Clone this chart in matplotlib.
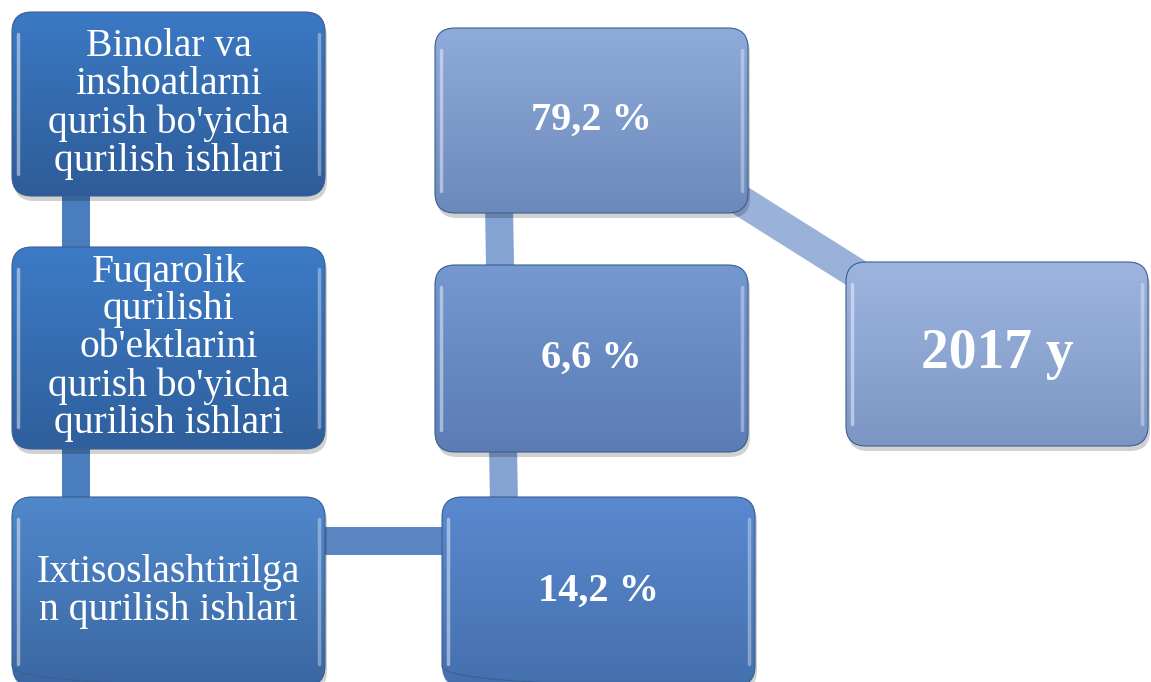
import matplotlib.pyplot as plt
import numpy as np
from matplotlib.patches import FancyBboxPatch, Polygon

plt.rcParams['font.family'] = ['Liberation Serif', 'DejaVu Serif']

# Ma'lumotlar
categories = [
    "Binolar va\ninshoatlarni\nqurish bo'yicha\nqurilish ishlari",
    "Fuqarolik\nqurilishi\nob'ektlarini\nqurish bo'yicha\nqurilish ishlari",
    "Ixtisoslashtirilga\nn qurilish ishlari",
]
shares = [79.2, 6.6, 14.2]
year_label = "2017 y"

W, H = 1151, 682
fig = plt.figure(figsize=(W / 100, H / 100), dpi=100)
ax = fig.add_axes([0, 0, 1, 1])
ax.set_xlim(0, W)
ax.set_ylim(H, 0)
ax.axis('off')


def hex2rgb(h):
    h = h.lstrip('#')
    return np.array([int(h[i:i + 2], 16) / 255 for i in (0, 2, 4)])


def box(x0, y0, x1, y1, top, bottom, text, size, weight='normal', ls=1.0):
    r = 20
    # shadow
    sh = FancyBboxPatch((x0 + r + 2, y0 + r + 5), x1 - x0 - 2 * r, y1 - y0 - 2 * r,
                        boxstyle=f"round,pad={r}", fc='#000000', ec='none', alpha=0.18, zorder=2)
    ax.add_patch(sh)
    p = FancyBboxPatch((x0 + r, y0 + r), x1 - x0 - 2 * r, y1 - y0 - 2 * r,
                       boxstyle=f"round,pad={r}", fc='none', ec='#3a5f90', lw=0.8, zorder=4)
    ax.add_patch(p)
    t = np.linspace(0, 1, 200)[:, None, None]
    grad = hex2rgb(top)[None, None, :] * (1 - t) + hex2rgb(bottom)[None, None, :] * t
    im = ax.imshow(grad, extent=(x0, x1, y1, y0), origin='upper', aspect='auto', zorder=3)
    im.set_clip_path(p)
    # bevel highlights
    ax.plot([x0 + 6, x0 + 6], [y0 + 22, y1 - 22], color='white', alpha=0.45, lw=2.5,
            solid_capstyle='round', zorder=5)
    ax.plot([x1 - 6, x1 - 6], [y0 + 22, y1 - 22], color='white', alpha=0.35, lw=2.5,
            solid_capstyle='round', zorder=5)
    ax.text((x0 + x1) / 2, (y0 + y1) / 2, text, color='white', fontsize=size, weight=weight,
            ha='center', va='center', linespacing=ls, zorder=6)


# connectors
ax.add_patch(Polygon([(62, 190), (90, 190), (90, 505), (62, 505)], closed=True,
                     fc='#4a7dbd', ec='none', zorder=1))
ax.add_patch(Polygon([(320, 527), (448, 527), (448, 555), (320, 555)], closed=True,
                     fc='#5a86c2', ec='none', zorder=1))
ax.add_patch(Polygon([(485, 205), (513, 205), (518, 505), (490, 505)], closed=True,
                     fc='#84a2d2', ec='none', zorder=1))
ax.plot([735, 870], [197, 282], color='#9ab1da', lw=22, solid_capstyle='butt', zorder=1)

# left column
box(12, 12, 325, 196, '#3b79c4', '#2e5c98', categories[0], 28.5, ls=1.05)
box(12, 247, 325, 449, '#3d7bc6', '#2f5f9c', categories[1], 28.5, ls=1.03)
box(12, 497, 325, 686, '#5088cc', '#3a67a2', categories[2], 28.5, ls=1.05)

# middle column
fmt = lambda v: f"{v:.1f} %".replace('.', ',')
box(435, 28, 748, 213, '#8eabdb', '#6c89bb', fmt(shares[0]), 29, 'bold')
box(435, 265, 748, 452, '#7598d0', '#5b7cb4', fmt(shares[1]), 29, 'bold')
box(442, 497, 755, 686, '#5a89cf', '#4570ae', fmt(shares[2]), 29, 'bold')

# right
box(846, 262, 1148, 446, '#9db5df', '#7c96c4', year_label, 40, 'bold')

fig.savefig('out.png', dpi=100)
